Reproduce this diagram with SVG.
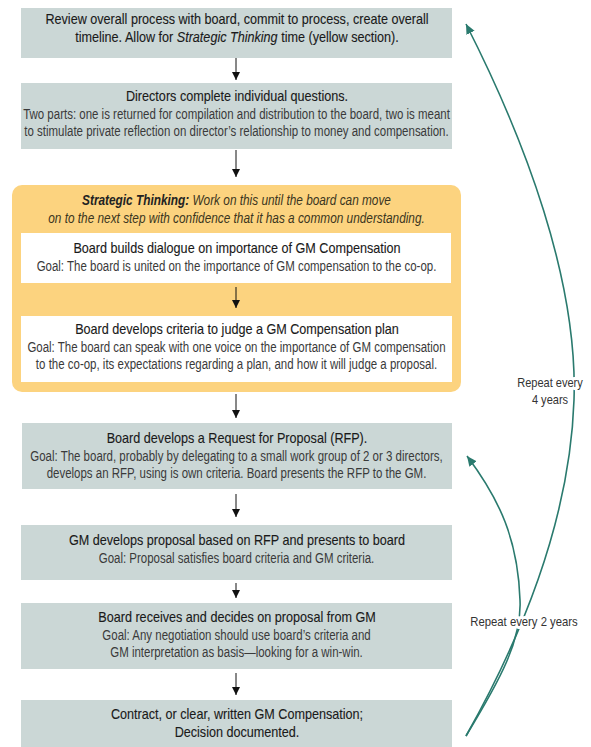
<svg xmlns="http://www.w3.org/2000/svg" width="591" height="747" viewBox="0 0 591 747">
<style>
.box{fill:#CBD7D6}
.wbox{fill:#FFFFFF}
.ybox{fill:#FCD37F}
text{font-family:"Liberation Sans",Arial,sans-serif;text-anchor:middle}
.t{font-size:14.5px;fill:#1A1A1A;stroke:#1A1A1A;stroke-width:0.12px}
.b{font-size:14px;fill:#3A3A3A}
.y{font-size:14px;fill:#3A3520;font-style:italic}
.yb{font-weight:bold;fill:#222}
.lbl{font-size:13px;fill:#333;stroke:#FFFFFF;stroke-width:6px;paint-order:stroke;stroke-linejoin:round}
.ar{stroke:#111;stroke-width:1;fill:none;marker-end:url(#ah)}
.gr{stroke:#2A7A6E;stroke-width:1.6;fill:none;marker-end:url(#gh)}
</style>
<defs>
<marker id="ah" markerUnits="userSpaceOnUse" markerWidth="9" markerHeight="9" refX="8" refY="4" orient="auto"><path d="M0,0 L8,4 L0,8 z" fill="#111"/></marker>
<marker id="gh" markerUnits="userSpaceOnUse" markerWidth="12" markerHeight="12" refX="10" refY="4.5" orient="auto"><path d="M0,0 L10,4.5 L0,9 z" fill="#2A7A6E"/></marker>
</defs>

<g id="n1">
<rect class="box" x="21" y="8" width="431" height="50"/>
<g transform="translate(237 0) scale(0.87 1)">
<text class="t" x="0" y="24.5">Review overall process with board, commit to process, create overall</text>
<text class="t" x="0" y="42.5">timeline. Allow for <tspan font-style="italic">Strategic Thinking</tspan> time (yellow section).</text>
</g>
</g>

<g id="n2">
<rect class="box" x="21" y="83" width="431" height="66"/>
<g transform="translate(237 0) scale(0.87 1)">
<text class="t" x="0" y="101">Directors complete individual questions.</text>
</g>
<g transform="translate(236.5 0) scale(0.82 1)">
<text class="b" x="0" y="119">Two parts: one is returned for compilation and distribution to the board, two is meant</text>
<text class="b" x="0" y="136.5">to stimulate private reflection on director’s relationship to money and compensation.</text>
</g>
</g>

<g id="strategic">
<rect class="ybox" x="12" y="185" width="449" height="207" rx="10"/>
<g transform="translate(236.5 0) scale(0.845 1)">
<text class="y" x="0" y="205"><tspan class="yb">Strategic Thinking:</tspan> Work on this until the board can move</text>
<text class="y" x="0" y="223">on to the next step with confidence that it has a common understanding.</text>
</g>
</g>

<g id="n3">
<rect class="wbox" x="21" y="233" width="430" height="50"/>
<g transform="translate(237 0) scale(0.87 1)">
<text class="t" x="0" y="253.5">Board builds dialogue on importance of GM Compensation</text>
</g>
<g transform="translate(236.5 0) scale(0.82 1)">
<text class="b" x="0" y="271.5">Goal: The board is united on the importance of GM compensation to the co-op.</text>
</g>
</g>

<g id="n4">
<rect class="wbox" x="21" y="316" width="431" height="66"/>
<g transform="translate(237 0) scale(0.87 1)">
<text class="t" x="0" y="334">Board develops criteria to judge a GM Compensation plan</text>
</g>
<g transform="translate(236.5 0) scale(0.82 1)">
<text class="b" x="0" y="352">Goal: The board can speak with one voice on the importance of GM compensation</text>
<text class="b" x="0" y="369.5">to the co-op, its expectations regarding a plan, and how it will judge a proposal.</text>
</g>
</g>

<g id="n5">
<rect class="box" x="22" y="423" width="430" height="66"/>
<g transform="translate(237 0) scale(0.87 1)">
<text class="t" x="0" y="443">Board develops a Request for Proposal (RFP).</text>
</g>
<g transform="translate(236.5 0) scale(0.82 1)">
<text class="b" x="0" y="461">Goal: The board, probably by delegating to a small work group of 2 or 3 directors,</text>
<text class="b" x="0" y="478.5">develops an RFP, using is own criteria. Board presents the RFP to the GM.</text>
</g>
</g>

<g id="n6">
<rect class="box" x="21" y="525" width="431" height="55"/>
<g transform="translate(237 0) scale(0.87 1)">
<text class="t" x="0" y="545">GM develops proposal based on RFP and presents to board</text>
</g>
<g transform="translate(236.5 0) scale(0.82 1)">
<text class="b" x="0" y="563">Goal: Proposal satisfies board criteria and GM criteria.</text>
</g>
</g>

<g id="n7">
<rect class="box" x="21" y="603" width="431" height="66"/>
<g transform="translate(237 0) scale(0.87 1)">
<text class="t" x="0" y="622">Board receives and decides on proposal from GM</text>
</g>
<g transform="translate(236.5 0) scale(0.82 1)">
<text class="b" x="0" y="640">Goal: Any negotiation should use board’s criteria and</text>
<text class="b" x="0" y="657.5">GM interpretation as basis—looking for a win-win.</text>
</g>
</g>

<g id="n8">
<rect class="box" x="21" y="700" width="431" height="47"/>
<g transform="translate(237 0) scale(0.87 1)">
<text class="t" x="0" y="719.5">Contract, or clear, written GM Compensation;</text>
<text class="t" x="0" y="737">Decision documented.</text>
</g>
</g>

<g id="connectors">
<line class="ar" x1="236" y1="58" x2="236" y2="80"/>
<line class="ar" x1="236" y1="150" x2="236" y2="177"/>
<line class="ar" x1="236" y1="287" x2="236" y2="308"/>
<line class="ar" x1="236" y1="394" x2="236" y2="418"/>
<line class="ar" x1="236" y1="494" x2="236" y2="517"/>
<line class="ar" x1="236" y1="583" x2="236" y2="598"/>
<line class="ar" x1="236" y1="673" x2="236" y2="695"/>
<path class="gr" d="M466,736 C520,640 570,520 574,400 C578,280 525,140 466,24"/>
<path class="gr" d="M466,736 C500,680 522,640 520,600 C518,540 500,500 467,456"/>
</g>

<g id="labels">
<g transform="translate(550 0) scale(0.85 1)">
<text class="lbl" x="0" y="387.5">Repeat every</text>
<text class="lbl" x="0" y="404">4 years</text>
</g>
<g transform="translate(524 0) scale(0.87 1)">
<text class="lbl" x="0" y="626.5">Repeat every 2 years</text>
</g>
</g>
</svg>
